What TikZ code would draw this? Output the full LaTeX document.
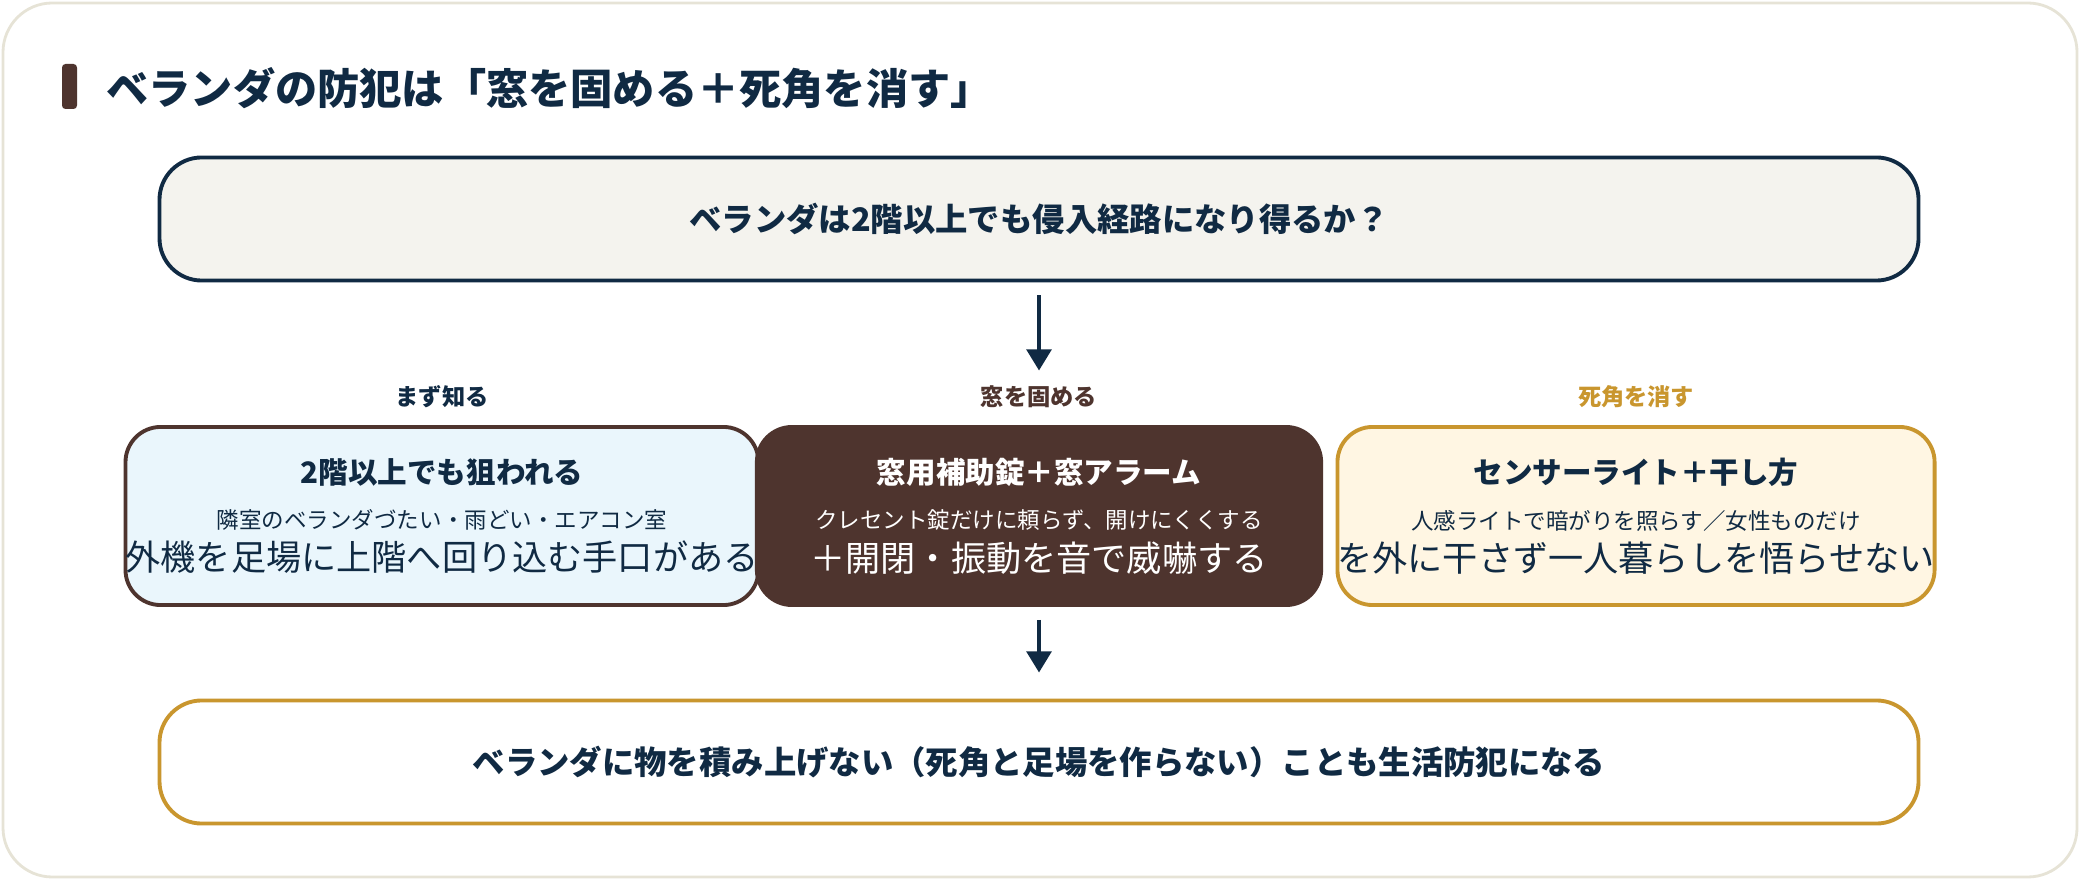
\documentclass[tikz,border=0pt]{standalone}
\usepackage{fontspec}
\setmainfont{Noto Sans CJK JP}
\usetikzlibrary{positioning, arrows.meta}

\definecolor{navy}{HTML}{102A43}
\definecolor{brown}{HTML}{4E342E}
\definecolor{gold}{HTML}{C9962E}
\definecolor{frame}{HTML}{E6E3D6}
\definecolor{paper}{HTML}{F4F3EE}
\definecolor{skyfill}{HTML}{EAF6FC}
\definecolor{creamfill}{HTML}{FFF6E3}

\newcommand{\cardhead}{\fontsize{8.4}{10}\selectfont\bfseries}
\newcommand{\cardbody}{\fontsize{6.4}{10.5}\selectfont\mdseries}

\tikzset{
	box/.style={draw, rounded corners=12pt, line width=1.1pt, minimum width=17.58cm, minimum height=1.23cm, inner sep=0pt},
	card/.style={draw, rounded corners=10pt, line width=1.1pt, minimum width=5.64cm, minimum height=1.78cm, inner sep=0pt, align=center},
	tag/.style={font=\fontsize{6.6}{8}\selectfont\bfseries},
	flow/.style={-{Triangle[length=6pt,width=7pt]}, line width=1.1pt, navy}
}

\begin{document}
\begin{tikzpicture}[x=0.01cm,y=-0.01cm]
					\useasboundingbox (0,0) rectangle (2080,880);
					\draw[frame, fill=white, rounded corners=14pt, line width=0.8pt] (3,3) rectangle (2077,877);

					% title
					\fill[brown, rounded corners=1pt] (62,64) rectangle (77,109);
					\node[anchor=west, navy, font=\fontsize{12}{14}\selectfont\bfseries] (title) at (94,88) {ベランダの防犯は「窓を固める＋死角を消す」};

					\node[box, navy, fill=paper, text=navy, font=\fontsize{9.2}{11}\selectfont\bfseries] (question) at (1039,219) {ベランダは2階以上でも侵入経路になり得るか？};

					\node[tag, navy] (t1) at (442,397) {まず知る};
					\node[tag, brown] (t2) at (1039,397) {窓を固める};
					\node[tag, gold] (t3) at (1636,397) {死角を消す};

					\node[card, brown, fill=skyfill, text=navy] (know) at (442,516)
						{\cardhead 2階以上でも狙われる\\[1pt]
						\cardbody 隣室のベランダづたい・雨どい・エアコン室\\外機を足場に上階へ回り込む手口がある};
					\node[card, brown, fill=brown, text=white] (window) at (1039,516)
						{\cardhead 窓用補助錠＋窓アラーム\\[1pt]
						\cardbody クレセント錠だけに頼らず、開けにくくする\\＋開閉・振動を音で威嚇する};
					\node[card, gold, fill=creamfill, text=navy] (blind) at (1636,516)
						{\cardhead センサーライト＋干し方\\[1pt]
						\cardbody 人感ライトで暗がりを照らす／女性ものだけ\\を外に干さず一人暮らしを悟らせない};

					\node[box, gold, fill=white, text=navy, font=\fontsize{9.2}{11}\selectfont\bfseries] (result) at (1039,762) {ベランダに物を積み上げない（死角と足場を作らない）ことも生活防犯になる};

					\draw[flow] ([yshift=-0.13cm]question.south) -- ([yshift=-0.88cm]question.south);
					\draw[flow] ([yshift=-0.13cm]window.south) -- ([yshift=0.26cm]result.north);
				\end{tikzpicture}
\end{document}
